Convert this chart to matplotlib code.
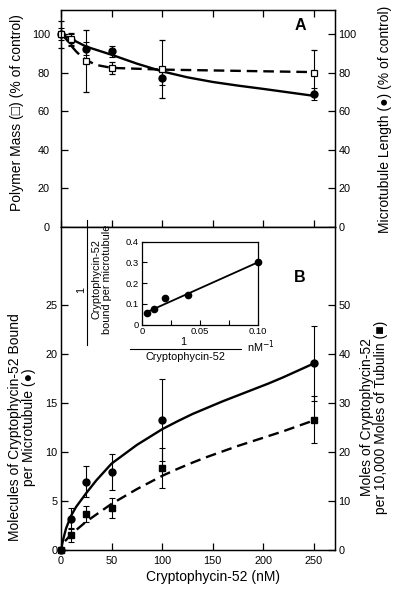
import matplotlib
matplotlib.use("Agg")
import matplotlib.pyplot as plt
from matplotlib.lines import Line2D

plt.rcParams['font.family'] = ['Liberation Sans', 'DejaVu Sans']
plt.rcParams['axes.linewidth'] = 0.9

# Panel A: polymer mass (open squares) and microtubule length (filled circles)
mass_x = [0, 10, 25, 50, 100, 250]
mass_y = [100, 97.5, 86, 82.5, 82, 80]
mass_err = [7, 3, 16, 3.2, 15, 12]
length_x = [0, 10, 25, 50, 100, 250]
length_y = [100, 97, 92.5, 91, 77, 69]
length_err = [3, 3, 3.5, 3, 3.2, 3]
# fitted curves
mass_fit_x = [0, 5, 10, 15, 20, 25, 35, 50, 100, 250]
mass_fit_y = [100, 97.5, 94, 91, 88.5, 86.5, 84, 82.5, 81.6, 80.3]
length_fit_x = [0, 10, 25, 50, 75, 100, 125, 150, 175, 200, 225, 250]
length_fit_y = [100, 97.5, 93.5, 89.3, 84.7, 80.7, 77.6, 75.2, 73.3, 71.6, 69.8, 68]

# Panel B: bound per microtubule (circles, left) and per 10,000 tubulin (squares, right)
conc = [0, 10, 25, 50, 100, 250]
bound_mt = [0, 3.2, 6.95, 7.95, 13.25, 19.0]
bound_mt_err = [0, 1.1, 1.6, 1.8, 4.2, 3.8]
bound_tub = [0, 3.1, 7.3, 8.5, 16.7, 26.5]
bound_tub_err = [0, 1.4, 1.6, 2.0, 4.0, 4.8]
fit_mt_x = [0, 2, 5, 10, 15, 25, 35, 50, 75, 100, 115, 130, 145, 160, 175, 190, 205,
            220, 235, 250]
fit_mt_y = [0, 1.0, 2.2, 3.5, 4.4, 5.8, 7.1, 8.8, 10.7, 12.3, 13.1, 13.85, 14.5, 15.15,
            15.75, 16.35, 16.95, 17.6, 18.3, 19.0]
fit_tub_x = [4, 10, 25, 50, 75, 100, 115, 130, 145, 160, 175, 190, 205, 220, 235, 250]
fit_tub_y = [1.8, 3.2, 5.8, 9.4, 12.4, 15.1, 16.5, 17.8, 19.0, 20.1, 21.2, 22.2, 23.2,
             24.2, 25.3, 26.4]

# Inset: double reciprocal plot
inv_conc = [0.004, 0.01, 0.02, 0.04, 0.1]
inv_bound = [0.055, 0.076, 0.127, 0.142, 0.302]
inv_fit_x = [0.003, 0.1]
inv_fit_y = [0.057, 0.30]

W, H = 400, 594
fig = plt.figure(figsize=(W / 100, H / 100), dpi=100)


def px(x, y):
    return x / W, 1 - y / H


fs = 10
tfs = 7.8
tick_kw = dict(direction="in", length=5, width=0.9, labelsize=tfs, pad=2.5)

axA = fig.add_axes([61 / W, 1 - 227 / H, 274 / W, 217 / H])
axA2 = axA.twinx()
axB = fig.add_axes([61 / W, 1 - 550 / H, 274 / W, 323 / H])
axB2 = axB.twinx()

# ---- Panel A
axA.plot(length_fit_x, length_fit_y, color="black", lw=1.7, zorder=2)
axA.plot(mass_fit_x, mass_fit_y, color="black", lw=1.7, dashes=(4.5, 2.5), zorder=2)
axA.errorbar(length_x, length_y, yerr=length_err, fmt="o", color="black", ms=5,
             capsize=2.5, elinewidth=0.8, capthick=0.8, zorder=3, clip_on=False)
axA.errorbar(mass_x, mass_y, yerr=mass_err, fmt="s", mfc="white", mec="black", ecolor="black",
             ms=5, mew=0.9, capsize=2.5, elinewidth=0.8, capthick=0.8, zorder=4, clip_on=False)
axA.set_xlim(0, 271)
axA.set_ylim(0, 112.5)
axA2.set_ylim(0, 112.5)
axA.set_yticks([0, 20, 40, 60, 80, 100])
axA2.set_yticks([0, 20, 40, 60, 80, 100])
axA.set_xticks([0, 50, 100, 150, 200, 250])
axA.tick_params(axis="both", top=True, labelbottom=False, **tick_kw)
axA.tick_params(axis="y", pad=8)
axA2.tick_params(**tick_kw)
fig.text(*px(300, 25), "A", fontsize=11.5, fontweight="bold", ha="center", va="center")
fig.text(*px(17, 113), "Polymer Mass (\u25a1) (% of control)", fontsize=fs,
         rotation=90, ha="center", va="center")
fig.text(*px(385, 119), "Microtubule Length (\u25cf) (% of control)", fontsize=fs,
         rotation=90, ha="center", va="center")

# ---- Panel B
axB.plot(fit_mt_x, fit_mt_y, color="black", lw=1.7, zorder=2)
axB2.plot(fit_tub_x, fit_tub_y, color="black", lw=1.7, dashes=(4.5, 2.5), zorder=2)
axB.errorbar(conc, bound_mt, yerr=bound_mt_err, fmt="o", color="black", ms=5,
             capsize=2.5, elinewidth=0.8, capthick=0.8, zorder=3, clip_on=False)
axB2.errorbar(conc, bound_tub, yerr=bound_tub_err, fmt="s", color="black", ms=5,
              capsize=2.5, elinewidth=0.8, capthick=0.8, zorder=3, clip_on=False)
axB.set_xlim(0, 271)
axB.set_ylim(0, 32.9)
axB2.set_ylim(0, 65.8)
axB.set_xticks([0, 50, 100, 150, 200, 250])
axB.set_yticks([0, 5, 10, 15, 20, 25])
axB2.set_yticks([0, 10, 20, 30, 40, 50])
axB.tick_params(**tick_kw)
axB.tick_params(axis="x", pad=4)
axB2.tick_params(**tick_kw)
fig.text(*px(213, 577), "Cryptophycin-52 (nM)", fontsize=fs, ha="center", va="center")
fig.text(*px(22, 427), "Molecules of Cryptophycin-52 Bound\nper Microtubule (\u25cf)",
         fontsize=fs, rotation=90, ha="center", va="center", linespacing=1.05)
fig.text(*px(374, 417), "Moles of Cryptophycin-52\nper 10,000 Moles of Tubulin (\u25a0)",
         fontsize=fs, rotation=90, ha="center", va="center", linespacing=1.05)
fig.text(*px(300, 278), "B", fontsize=11.5, fontweight="bold", ha="center", va="center")

# ---- Inset
axI = fig.add_axes([142 / W, 1 - 324.5 / H, 115.7 / W, 82.8 / H])
axI.plot(inv_fit_x, inv_fit_y, color="black", lw=1.3)
axI.plot(inv_conc, inv_bound, "o", color="black", ms=4.5, clip_on=False)
axI.set_xlim(0, 0.1)
axI.set_ylim(0, 0.4)
axI.set_xticks([0, 0.025, 0.05, 0.075, 0.1])
axI.set_xticklabels(["0", "", "0.05", "", "0.10"])
axI.set_yticks([0, 0.1, 0.2, 0.3, 0.4])
axI.set_yticklabels(["0", "0.1", "0.2", "0.3", "0.4"])
axI.tick_params(direction="in", length=3.5, width=0.8, labelsize=6.8, pad=2)

fsi = 7.8
# inset x label as a fraction
fig.text(*px(183, 342), "1", fontsize=fsi, ha="center", va="center")
fig.add_artist(Line2D([130 / W, 241 / W], [1 - 348.5 / H, 1 - 348.5 / H], color="black", lw=0.8))
fig.text(*px(185, 357.5), "Cryptophycin-52", fontsize=fsi, ha="center", va="center")
fig.text(*px(247, 347), "nM$^{-1}$", fontsize=fsi, ha="left", va="center")
# inset y label as a fraction
fig.text(*px(81, 290), "1", fontsize=fsi, ha="center", va="center", rotation=90)
fig.add_artist(Line2D([87 / W, 87 / W], [1 - 220 / H, 1 - 345 / H], color="black", lw=0.8))
fig.text(*px(102, 279), "Cryptophycin-52\nbound per microtubule", fontsize=fsi,
         ha="center", va="center", rotation=90, linespacing=1.0)

fig.savefig("out.png", dpi=100)
